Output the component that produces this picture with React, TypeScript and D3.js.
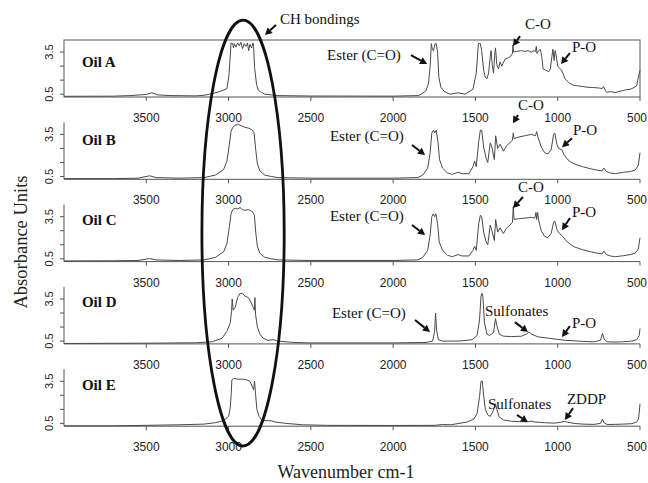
import React from 'react';
import * as d3 from 'd3';

type Pt = [number, number];

const oilNames = ['Oil A', 'Oil B', 'Oil C', 'Oil D', 'Oil E'];
const xTicks = [3500, 3000, 2500, 2000, 1500, 1000, 500];
const yTicks = [0.5, 1.5, 2.5, 3.5];
const yTickLabels = ['0.5', '', '', '3.5'];

// spectra: [wavenumber, absorbance]
const oilA: Pt[] = [
  [4000, 0.35], [3700, 0.36], [3600, 0.4], [3500, 0.48], [3465, 0.6], [3430, 0.45], [3350, 0.4],
  [3200, 0.38], [3150, 0.42], [3095, 0.55], [3050, 0.7], [3010, 0.9], [2998, 1.8], [2990, 3.2],
  [2985, 4.15], [2975, 4.1], [2970, 3.8], [2965, 4.1], [2955, 3.85], [2945, 4.15], [2935, 3.95],
  [2925, 4.2], [2915, 3.75], [2905, 4.1], [2895, 3.9], [2885, 4.15], [2878, 3.6], [2870, 4.05],
  [2860, 3.8], [2852, 4.15], [2848, 3.9], [2842, 2.4], [2830, 1.2], [2820, 0.8], [2800, 0.62],
  [2780, 0.5], [2740, 0.45], [2700, 0.4], [2500, 0.37], [2000, 0.36], [1850, 0.4], [1837, 0.45],
  [1800, 0.75], [1785, 1.3], [1775, 2.5], [1768, 4.1], [1762, 3.7], [1755, 3.6], [1745, 4.1],
  [1738, 4.1], [1730, 3.5], [1722, 1.7], [1710, 1.0], [1690, 0.7], [1655, 0.5], [1606, 0.6],
  [1563, 0.5], [1515, 0.85], [1495, 2.0], [1482, 4.1], [1470, 4.1], [1462, 3.6], [1450, 2.2],
  [1440, 1.7], [1430, 1.6], [1420, 2.0], [1410, 3.2], [1405, 3.6], [1398, 2.6], [1390, 2.0],
  [1382, 3.4], [1378, 3.8], [1370, 2.6], [1360, 2.3], [1350, 2.8], [1340, 2.5], [1332, 2.7],
  [1320, 3.0], [1300, 3.1], [1290, 3.15], [1275, 3.4], [1272, 4.0], [1268, 3.5], [1250, 3.55],
  [1220, 3.6], [1200, 3.55], [1180, 3.6], [1160, 3.5], [1145, 3.6], [1135, 3.55], [1130, 3.9],
  [1126, 3.4], [1115, 3.6], [1105, 3.7], [1095, 3.0], [1089, 2.3], [1070, 2.2], [1055, 2.1],
  [1045, 2.3], [1035, 3.2], [1029, 3.7], [1022, 2.9], [1016, 3.6], [1010, 3.3], [1000, 2.5],
  [990, 2.35], [975, 2.2], [956, 1.6], [930, 1.3], [907, 1.15], [880, 1.1], [850, 1.05],
  [822, 1.0], [790, 0.98], [760, 0.95], [743, 0.93], [730, 0.9], [722, 1.05], [712, 0.8],
  [703, 0.64], [680, 0.68], [650, 0.62], [621, 0.71], [590, 0.8], [560, 0.85], [543, 0.93],
  [520, 1.1], [514, 1.5], [500, 2.2],
];
const oilB: Pt[] = [
  [4000, 0.35], [3700, 0.35], [3550, 0.38], [3480, 0.55], [3440, 0.42], [3300, 0.38], [3150, 0.42],
  [3080, 0.6], [3030, 1.0], [3010, 1.6], [2995, 2.8], [2985, 3.7], [2975, 4.0], [2960, 4.15],
  [2940, 4.2], [2920, 4.1], [2900, 4.0], [2880, 3.95], [2860, 3.85], [2850, 3.7], [2845, 3.6],
  [2835, 2.4], [2825, 1.4], [2810, 0.9], [2780, 0.6], [2740, 0.5], [2700, 0.42], [2500, 0.38],
  [2000, 0.38], [1850, 0.42], [1820, 0.6], [1790, 1.1], [1775, 2.2], [1765, 3.6], [1755, 3.8],
  [1748, 3.6], [1738, 3.8], [1728, 3.0], [1718, 1.7], [1700, 1.1], [1670, 0.75], [1640, 0.65],
  [1605, 0.8], [1580, 0.7], [1540, 0.7], [1515, 1.2], [1505, 1.6], [1495, 1.2], [1480, 3.0],
  [1470, 3.8], [1462, 3.8], [1450, 2.6], [1435, 1.8], [1425, 1.5], [1410, 2.9], [1400, 2.6],
  [1385, 1.7], [1377, 3.4], [1365, 2.5], [1350, 2.8], [1330, 2.3], [1310, 2.7], [1290, 2.9],
  [1275, 3.1], [1270, 3.6], [1265, 3.2], [1240, 3.3], [1200, 3.4], [1160, 3.5], [1135, 3.4],
  [1128, 3.7], [1120, 3.3], [1100, 2.6], [1080, 2.2], [1060, 2.1], [1040, 2.4], [1025, 3.5],
  [1018, 3.6], [1005, 2.8], [995, 2.5], [975, 2.4], [960, 2.0], [930, 1.6], [900, 1.4],
  [850, 1.2], [800, 1.05], [760, 0.95], [730, 0.9], [720, 1.1], [705, 0.85], [680, 0.75],
  [650, 0.7], [600, 0.8], [560, 0.85], [530, 0.95], [510, 1.3], [500, 2.2],
];
const oilC: Pt[] = [
  [4000, 0.35], [3700, 0.36], [3550, 0.38], [3480, 0.52], [3440, 0.42], [3300, 0.38], [3150, 0.42],
  [3080, 0.6], [3030, 1.0], [3010, 1.6], [2995, 2.8], [2985, 3.7], [2975, 4.0], [2960, 4.1],
  [2945, 4.05], [2930, 4.15], [2915, 4.0], [2900, 3.95], [2880, 4.0], [2860, 3.9], [2850, 3.75],
  [2843, 3.6], [2835, 2.4], [2825, 1.4], [2810, 0.9], [2780, 0.6], [2740, 0.5], [2700, 0.42],
  [2500, 0.38], [2000, 0.38], [1850, 0.42], [1820, 0.6], [1790, 1.1], [1775, 2.2], [1765, 3.5],
  [1757, 3.7], [1748, 3.5], [1740, 3.7], [1730, 3.0], [1720, 1.7], [1700, 1.1], [1670, 0.75],
  [1640, 0.65], [1605, 0.8], [1580, 0.7], [1540, 0.7], [1515, 1.1], [1505, 1.4], [1495, 1.1],
  [1480, 3.0], [1470, 3.6], [1462, 3.5], [1450, 2.4], [1435, 1.7], [1425, 1.5], [1410, 2.9],
  [1400, 2.5], [1385, 1.8], [1377, 3.3], [1365, 2.4], [1350, 2.7], [1330, 2.3], [1310, 2.7],
  [1290, 2.9], [1275, 3.1], [1270, 4.2], [1265, 3.3], [1240, 3.35], [1200, 3.4], [1160, 3.45],
  [1140, 3.4], [1132, 3.8], [1128, 3.3], [1122, 3.8], [1115, 3.2], [1100, 2.5], [1080, 2.1],
  [1060, 2.0], [1040, 2.3], [1025, 3.1], [1018, 3.2], [1005, 2.6], [990, 2.3], [970, 2.1],
  [950, 1.8], [920, 1.5], [900, 1.35], [850, 1.15], [800, 1.0], [760, 0.9], [730, 0.85],
  [720, 1.05], [705, 0.8], [680, 0.7], [650, 0.65], [600, 0.72], [560, 0.8], [530, 0.9],
  [510, 1.2], [500, 2.0],
];
const oilD: Pt[] = [
  [4000, 0.33], [3500, 0.35], [3200, 0.38], [3100, 0.45], [3040, 0.7], [3010, 1.2], [2990, 1.8],
  [2982, 2.6], [2978, 3.5], [2972, 2.7], [2960, 2.9], [2945, 3.6], [2930, 3.9], [2915, 3.9],
  [2900, 3.7], [2880, 3.6], [2865, 3.3], [2850, 2.9], [2843, 2.7], [2840, 3.6], [2836, 2.4],
  [2825, 1.5], [2810, 1.0], [2790, 0.7], [2760, 0.55], [2730, 0.6], [2700, 0.5], [2600, 0.4],
  [2500, 0.37], [2000, 0.37], [1800, 0.4], [1760, 0.5], [1748, 1.2], [1742, 2.5], [1736, 1.3],
  [1725, 0.6], [1700, 0.5], [1600, 0.5], [1520, 0.6], [1490, 0.9], [1475, 2.0], [1466, 3.7],
  [1460, 3.9], [1455, 3.7], [1445, 1.8], [1430, 1.0], [1415, 0.9], [1390, 1.1], [1378, 2.1],
  [1370, 1.6], [1355, 1.0], [1330, 0.85], [1280, 0.82], [1220, 0.85], [1190, 1.0], [1175, 1.15],
  [1160, 1.0], [1120, 0.8], [1050, 0.7], [1000, 0.62], [950, 0.55], [900, 0.52], [850, 0.48],
  [780, 0.45], [740, 0.55], [728, 1.05], [718, 0.65], [700, 0.45], [650, 0.43], [600, 0.45],
  [550, 0.5], [520, 0.6], [505, 0.9], [500, 1.4],
];
const oilE: Pt[] = [
  [4000, 0.33], [3700, 0.33], [3500, 0.36], [3300, 0.4], [3150, 0.45], [3080, 0.55], [3030, 0.7],
  [3000, 1.0], [2990, 1.6], [2984, 2.6], [2980, 3.6], [2970, 3.7], [2940, 3.65], [2910, 3.65],
  [2890, 3.6], [2870, 3.5], [2855, 3.1], [2848, 2.9], [2842, 3.5], [2836, 2.6], [2828, 1.5],
  [2815, 1.0], [2800, 0.75], [2780, 0.7], [2740, 0.68], [2720, 0.6], [2650, 0.5], [2550, 0.4],
  [2400, 0.36], [2000, 0.35], [1750, 0.36], [1700, 0.42], [1650, 0.4], [1600, 0.5], [1550, 0.6],
  [1510, 0.8], [1490, 1.2], [1475, 2.4], [1466, 3.5], [1458, 3.5], [1450, 2.5], [1440, 1.5],
  [1425, 1.1], [1410, 1.0], [1395, 1.3], [1378, 1.9], [1370, 1.5], [1355, 0.95], [1330, 0.75],
  [1280, 0.65], [1220, 0.62], [1180, 0.62], [1160, 0.66], [1140, 0.6], [1080, 0.55], [1020, 0.52],
  [980, 0.58], [960, 0.65], [940, 0.58], [900, 0.5], [850, 0.45], [780, 0.43], [740, 0.5],
  [728, 0.8], [718, 0.55], [700, 0.42], [650, 0.43], [600, 0.45], [550, 0.48], [520, 0.6],
  [510, 0.8], [505, 1.2], [500, 1.9],
];
const spectra = [oilA, oilB, oilC, oilD, oilE];

// where the "Oil X" labels sit, in panel data units
const labelAbs = [2.44, 2.74, 2.91, 2.93, 2.88];

// text + arrow annotations, in wavenumber / absorbance of each panel
const notes = [
  { p: 0, t: 'CH bondings', tx: 2688, ty: 5.5, x1: 2712, y1: 5.43, x2: 2779, y2: 4.72 },
  { p: 0, t: 'Ester (C=O)', tx: 2402, ty: 2.94, x1: 1892, y1: 3.29, x2: 1794, y2: 2.65 },
  { p: 0, t: 'C-O', tx: 1199, ty: 5.14, x1: 1229, y1: 4.64, x2: 1272, y2: 3.93 },
  { p: 0, t: 'P-O', tx: 913, ty: 3.5, x1: 926, y1: 3.43, x2: 980, y2: 2.65 },
  { p: 1, t: 'Ester (C=O)', tx: 2384, ty: 3.03, x1: 1886, y1: 2.74, x2: 1806, y2: 2.03 },
  { p: 1, t: 'C-O', tx: 1241, ty: 5.24, x1: 1241, y1: 4.88, x2: 1272, y2: 4.3 },
  { p: 1, t: 'P-O', tx: 907, ty: 3.46, x1: 913, y1: 3.22, x2: 974, y2: 2.59 },
  { p: 2, t: 'Ester (C=O)', tx: 2384, ty: 3.19, x1: 1886, y1: 2.91, x2: 1806, y2: 2.19 },
  { p: 2, t: 'C-O', tx: 1241, ty: 5.26, x1: 1211, y1: 4.9, x2: 1272, y2: 4.12 },
  { p: 2, t: 'P-O', tx: 913, ty: 3.48, x1: 926, y1: 3.4, x2: 974, y2: 2.54 },
  { p: 3, t: 'Ester (C=O)', tx: 2372, ty: 2.14, x1: 1867, y1: 2.0, x2: 1776, y2: 1.15 },
  { p: 3, t: 'Sulfonates', tx: 1442, ty: 2.28, x1: 1260, y1: 1.85, x2: 1181, y2: 1.14 },
  { p: 3, t: 'P-O', tx: 913, ty: 1.43, x1: 926, y1: 1.57, x2: 974, y2: 0.79 },
  { p: 4, t: 'Sulfonates', tx: 1424, ty: 1.53, x1: 1248, y1: 1.1, x2: 1181, y2: 0.6 },
  { p: 4, t: 'ZDDP', tx: 944, ty: 1.88, x1: 907, y1: 1.59, x2: 956, y2: 0.74 },
];

// the hand drawn ellipse round the CH band
const ring = { wn: 2912, halfWn: 250, topAbs: 5.78, bottomAbs: -1.11 };

const W = 648;
const H = 483;
const panelStep = 82.3;
const panelTop0 = 40;
const panelH = 57;

const x = d3.scaleLinear().domain([4000, 500]).range([64, 640]);
const y = d3.scaleLinear().domain([0.3, 4.36]).range([panelH, 0]);
const top = (i: number) => panelTop0 + i * panelStep;
const line = d3.line<Pt>().x(d => x(d[0])).y(d => y(d[1]));

const serif = '"Liberation Serif", "Times New Roman", serif';
const sans = '"Liberation Sans", Arial, sans-serif';

const Arrow: React.FC<{ x1: number; y1: number; x2: number; y2: number }> = ({ x1, y1, x2, y2 }) => {
  const a = Math.atan2(y2 - y1, x2 - x1);
  const L = 7, w = 3.8;
  const bx = x2 - L * Math.cos(a), by = y2 - L * Math.sin(a);
  const px = -Math.sin(a) * w, py = Math.cos(a) * w;
  return (
    <g>
      <line x1={x1} y1={y1} x2={bx} y2={by} stroke="#111" strokeWidth={2} />
      <path d={`M${x2},${y2}L${bx + px},${by + py}L${bx - px},${by - py}Z`} fill="#111" />
    </g>
  );
};

export default function App() {
  const ringTop = top(0) + y(ring.topAbs);
  const ringBottom = top(4) + y(ring.bottomAbs);
  return (
    <svg width={W} height={H} style={{ position: 'absolute', left: 0, top: 0, background: '#fff' }}>
      {spectra.map((data, i) => (
        <g key={i} transform={`translate(0,${top(i)})`}>
          {/* frame: full box for the first panel, L shape for the rest */}
          {i === 0 ? (
            <rect x={x(4000)} y={0} width={x(500) - x(4000)} height={panelH} fill="none" stroke="#555" strokeWidth={1} />
          ) : (
            <path d={`M${x(4000)},${y(4.36)}V${panelH}H${x(500)}`} fill="none" stroke="#555" strokeWidth={1} />
          )}
          {xTicks.map(t => (
            <g key={t}>
              <line x1={x(t)} x2={x(t)} y1={panelH} y2={panelH + 4} stroke="#555" />
              <text
                x={t === 500 ? W - 1 : x(t)}
                y={panelH + 25}
                textAnchor={t === 500 ? 'end' : 'middle'}
                fontFamily={sans}
                fontSize={12}
                fill="#222"
              >
                {t}
              </text>
            </g>
          ))}
          {yTicks.map((t, k) => (
            <g key={t}>
              <line x1={x(4000) - 4} x2={x(4000)} y1={y(t)} y2={y(t)} stroke="#555" />
              {yTickLabels[k] && (
                <text transform={`translate(53,${y(t)}) rotate(-90)`} textAnchor="middle" fontFamily={sans} fontSize={11} fill="#222">
                  {yTickLabels[k]}
                </text>
              )}
            </g>
          ))}
          <path d={line(data) || ''} fill="none" stroke="#4a4a4a" strokeWidth={1} strokeLinejoin="round" />
          <text x={x(3891)} y={y(labelAbs[i])} fontFamily={serif} fontWeight="bold" fontSize={15} fill="#111">
            {oilNames[i]}
          </text>
        </g>
      ))}

      {notes.map((n, k) => (
        <g key={k} transform={`translate(0,${top(n.p)})`}>
          <text x={x(n.tx)} y={y(n.ty)} fontFamily={serif} fontSize={15} fill="#111">{n.t}</text>
          <Arrow x1={x(n.x1)} y1={y(n.y1)} x2={x(n.x2)} y2={y(n.y2)} />
        </g>
      ))}

      <ellipse
        cx={x(ring.wn)}
        cy={(ringTop + ringBottom) / 2}
        rx={x(ring.wn - ring.halfWn) - x(ring.wn)}
        ry={(ringBottom - ringTop) / 2}
        fill="none"
        stroke="#111"
        strokeWidth={2.8}
      />

      <text transform="translate(27,242) rotate(-90)" textAnchor="middle" fontFamily={serif} fontSize={18.5} fill="#222">
        Absorbance Units
      </text>
      <text x={346} y={478} textAnchor="middle" fontFamily={serif} fontSize={18} fill="#222">
        Wavenumber cm-1
      </text>
    </svg>
  );
}
